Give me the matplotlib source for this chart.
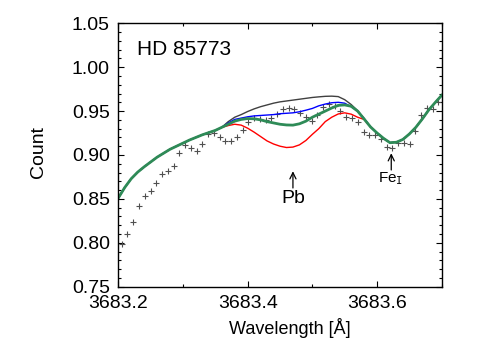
import numpy as np
import matplotlib
matplotlib.use("Agg")
import matplotlib.pyplot as plt
from matplotlib.ticker import MultipleLocator

plt.rcParams['font.family'] = ['Liberation Sans', 'DejaVu Sans']

# observed spectrum (crosses), evenly spaced in wavelength
obs_start = 3683.2053
obs_step = 0.0089
obs_flux = [0.7983, 0.8097, 0.8237, 0.8423, 0.8530, 0.8587, 0.8685, 0.8780,
            0.8818, 0.8878, 0.9017, 0.9110, 0.9083, 0.9046, 0.9125, 0.9236,
            0.9256, 0.9202, 0.9157, 0.9159, 0.9202, 0.9285, 0.9370, 0.9418,
            0.9407, 0.9399, 0.9421, 0.9465, 0.9521, 0.9533, 0.9521, 0.9473,
            0.9438, 0.9384, 0.9450, 0.9543, 0.9575, 0.9558, 0.9501, 0.9433,
            0.9424, 0.9374, 0.9265, 0.9222, 0.9224, 0.9177, 0.9095, 0.9085,
            0.9142, 0.9133, 0.9123, 0.9268, 0.9458, 0.9530, 0.9522, 0.9600]

# synthetic spectra, sampled every 0.01 A
wl_left = [3683.20, 3683.21, 3683.22, 3683.23, 3683.24, 3683.25, 3683.26, 3683.27,
           3683.28, 3683.29, 3683.30, 3683.31, 3683.32, 3683.33, 3683.34, 3683.35]
flux_left = [0.851, 0.863, 0.873, 0.8805, 0.8865, 0.892, 0.8975, 0.902,
             0.9065, 0.910, 0.9135, 0.917, 0.920, 0.923, 0.9255, 0.928]

wl_mid = [3683.36, 3683.37, 3683.38, 3683.39, 3683.40, 3683.41, 3683.42, 3683.43,
          3683.44, 3683.45, 3683.46, 3683.47, 3683.48, 3683.49, 3683.50, 3683.51,
          3683.52, 3683.53, 3683.54, 3683.55, 3683.56, 3683.57, 3683.58]
flux_black = [0.9315, 0.938, 0.943, 0.946, 0.9495, 0.9525, 0.955, 0.957,
              0.959, 0.9605, 0.9615, 0.9625, 0.9635, 0.9645, 0.9655, 0.9662,
              0.9668, 0.967, 0.9665, 0.963, 0.9575, 0.9505, 0.9415]
flux_blue = [0.9315, 0.9365, 0.9405, 0.942, 0.9435, 0.9445, 0.945, 0.9455,
             0.946, 0.947, 0.9475, 0.948, 0.9492, 0.951, 0.953, 0.956,
             0.958, 0.9595, 0.960, 0.959, 0.955, 0.950, 0.9415]
flux_red = [0.9315, 0.9335, 0.935, 0.934, 0.9305, 0.926, 0.921, 0.916,
            0.9125, 0.910, 0.9085, 0.909, 0.9115, 0.9165, 0.9235, 0.930,
            0.938, 0.943, 0.9467, 0.948, 0.9465, 0.943, 0.9405]
flux_green = [0.9315, 0.935, 0.9385, 0.9405, 0.9415, 0.9412, 0.940, 0.938,
              0.9365, 0.935, 0.9342, 0.934, 0.9355, 0.9385, 0.943, 0.9465,
              0.950, 0.9535, 0.9565, 0.957, 0.9555, 0.950, 0.941]

wl_right = [3683.59, 3683.60, 3683.61, 3683.62, 3683.63, 3683.64,
            3683.65, 3683.66, 3683.67, 3683.68, 3683.69, 3683.70]
flux_right = [0.9319, 0.9251, 0.919, 0.914, 0.9145, 0.9177,
              0.9239, 0.9315, 0.941, 0.9513, 0.9598, 0.968]

obs_wl = obs_start + obs_step * np.arange(len(obs_flux))
wl_model = np.concatenate([wl_left, wl_mid, wl_right])


def full(mid):
    return np.concatenate([flux_left, mid, flux_right])


fig = plt.figure(figsize=(5, 3.5), dpi=100)
ax = fig.add_axes([0.2366, 0.1809, 0.6468, 0.7526])

ax.plot(obs_wl, obs_flux, ls='none', marker='+', ms=5, mew=0.8, color='#505050')
ax.plot(wl_model, full(flux_black), color='#404040', lw=1.0)
ax.plot(wl_model, full(flux_blue), color='blue', lw=1.0)
ax.plot(wl_model, full(flux_red), color='red', lw=1.0)
ax.plot(wl_model, full(flux_green), color='#2e8b57', lw=2.0)

ax.set_xlim(3683.2, 3683.7)
ax.set_ylim(0.75, 1.05)
ax.xaxis.set_major_locator(MultipleLocator(0.2))
ax.xaxis.set_minor_locator(MultipleLocator(0.1))
ax.yaxis.set_major_locator(MultipleLocator(0.05))
ax.yaxis.set_minor_locator(MultipleLocator(0.01))
ax.xaxis.set_major_formatter(plt.FuncFormatter(lambda v, p: f'{v:.1f}'))
ax.yaxis.set_major_formatter(plt.FuncFormatter(lambda v, p: f'{v:.2f}'))
ax.tick_params(which='both', direction='in', top=True, right=True, labelsize=14, pad=6)
ax.tick_params(which='major', length=4.5, width=0.8)
ax.tick_params(which='minor', length=2.2, width=0.8)
for s in ax.spines.values():
    s.set_linewidth(1.0)

ax.set_ylabel('Count', fontsize=14)
ax.set_xlabel('Wavelength [Å]', fontsize=13)
ax.yaxis.set_label_coords(-0.222, 0.511)
ax.xaxis.set_label_coords(0.531, -0.12)

ax.text(0.058, 0.899, 'HD 85773', transform=ax.transAxes, fontsize=15, va='center', ha='left')

arrow = dict(arrowstyle='->, head_length=0.45, head_width=0.22', lw=0.9,
             color='black', shrinkA=0, shrinkB=0)
ax.annotate('', xy=(3683.47, 0.8815), xytext=(3683.47, 0.8624), arrowprops=arrow)
ax.text(3683.47, 0.851, 'Pb', fontsize=14, ha='center', va='center')
ax.annotate('', xy=(3683.622, 0.902), xytext=(3683.622, 0.8829), arrowprops=arrow)
ax.text(3683.621, 0.8727, r'Fe$_{\mathtt{I}}$', fontsize=11, ha='center', va='center')

fig.savefig('out.png', dpi=100)
